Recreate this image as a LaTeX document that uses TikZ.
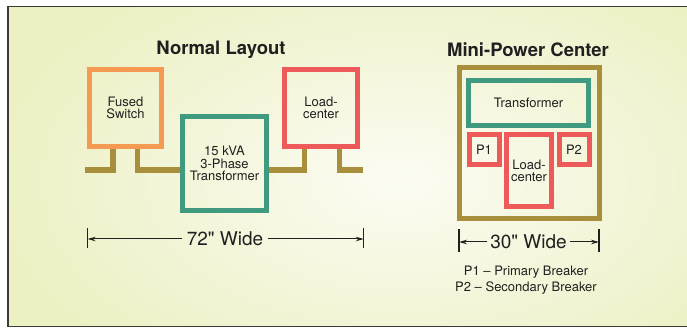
\documentclass[tikz,border=0pt]{standalone}
\usepackage{fontspec}
\setmainfont{TeX Gyre Heros}[Ligatures=TeXOff]
\usetikzlibrary{arrows.meta,calc}
\definecolor{bgouter}{HTML}{ECF0C2}
\definecolor{bginner}{HTML}{FCFCF3}
\definecolor{orangec}{HTML}{F59A52}
\definecolor{tealc}{HTML}{3F9A7F}
\definecolor{redc}{HTML}{EE5A5A}
\definecolor{goldc}{HTML}{A98E3B}
\definecolor{textc}{HTML}{231F20}
\definecolor{framec}{HTML}{3A3A3A}
\begin{document}
\begin{tikzpicture}[x=1pt,y=-1pt,
  boxtxt/.style={font=\fontsize{13}{12.7}\selectfont, align=center, text=textc, inner sep=0pt},
  unit/.style={draw=#1, line width=5pt, boxtxt},
  leg/.style={goldc, line width=5.5pt},
  dimline/.style={line width=1pt, textc, -{Stealth[length=8pt,width=4.5pt]}},
  tickline/.style={line width=1.3pt, textc},
  dimtxt/.style={font=\fontsize{19}{20}\selectfont, text=textc, inner xsep=5pt, inner ysep=3pt},
  title/.style={font=\fontsize{18.5}{20}\selectfont\bfseries, text=textc, inner sep=0pt},
  legend/.style={font=\fontsize{13}{16}\selectfont, text=textc, align=center, inner sep=0pt}]
\useasboundingbox (0,0) rectangle (687,328);
\fill[white] (0,0) rectangle (687,328);
\begin{scope}
  \clip (8,6.5) rectangle (687,326.5);
  \shade[inner color=bginner, outer color=bgouter] (-20,-60) rectangle (820,420);
\end{scope}
\draw[framec, line width=1.5pt] (700,6.5) -- (8,6.5) -- (8,326.5) -- (700,326.5);

% Titles
\node[title] (t1) at (221,49.5) {Normal Layout};
\node[title] (t2) at (528,49.5) {Mini-Power Center};

% Normal layout
\node[unit=orangec, minimum width=72pt, minimum height=77pt] (fs) at (125.5,108) {Fused\\Switch};
\node[unit=tealc, minimum width=84pt, minimum height=94pt] (tr) at (224.5,163.5) {15 kVA\\3-Phase\\Transformer};
\node[unit=redc, minimum width=73pt, minimum height=77pt] (lc) at (321,108) {Load-\\center};

\coordinate (fsend) at (85,170);
\coordinate (lcend) at (363,170);
\draw[leg] ([xshift=-12.5pt]fs.south) |- (fsend);
\draw[leg] ([xshift=12pt]fs.south) |- (tr.west |- fsend);
\draw[leg] ([xshift=-16.5pt]lc.south) |- (tr.east |- fsend);
\draw[leg] ([xshift=18.5pt]lc.south) |- (lcend);

% 72" dimension
\coordinate (d1a) at (87.6,228);
\coordinate (d1b) at (87.6,248);
\coordinate (d1c) at (363.7,228);
\coordinate (d1d) at (363.7,248);
\draw[tickline] (d1a) -- (d1b);
\draw[tickline] (d1c) -- (d1d);
\node[dimtxt] (w1) at (225,239) {72" Wide};
\draw[dimline] (w1.west) -- (d1a |- w1.west);
\draw[dimline] (w1.east) -- (d1c |- w1.east);

% Mini-power center
\node[draw=goldc, line width=5pt, minimum width=139.5pt, minimum height=151pt] (mpc) at (529.25,143) {};
\node[unit=tealc, minimum width=120pt, minimum height=45pt] (mtr) at (528.5,103) {Transformer};
\node[unit=redc, minimum width=30pt, minimum height=30pt] (p1) at (484,150) {P1};
\node[unit=redc, minimum width=45pt, minimum height=71.5pt] (mlc) at (529,170.75) {Load-\\center};
\node[unit=redc, minimum width=30pt, minimum height=30pt] (p2) at (574,150) {P2};

% 30" dimension
\coordinate (d2a) at (459,229);
\coordinate (d2b) at (459,252);
\coordinate (d2c) at (599,229);
\coordinate (d2d) at (599,252);
\draw[tickline] (d2a) -- (d2b);
\draw[tickline] (d2c) -- (d2d);
\node[dimtxt, inner xsep=3pt] (w2) at (528.5,242) {30" Wide};
\draw[dimline] (w2.west) -- (d2a |- w2.west);
\draw[dimline] (w2.east) -- (d2c |- w2.east);

% Legend
\node[legend] (lg) at (526,280) {P1 – Primary Breaker\\P2 – Secondary Breaker};
\end{tikzpicture}
\end{document}
